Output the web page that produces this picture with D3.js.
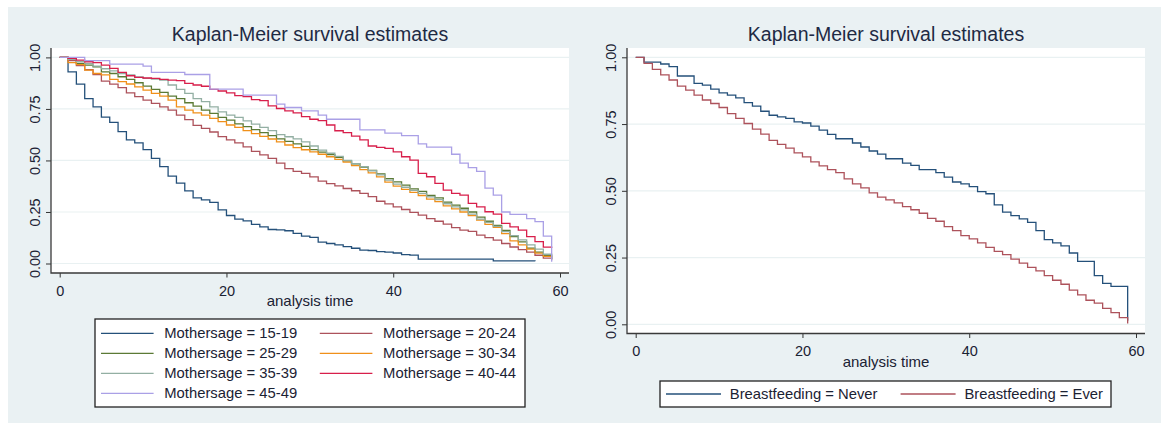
<!DOCTYPE html>
<html>
<head>
<meta charset="utf-8">
<script src="https://cdn.jsdelivr.net/npm/d3@7"></script>
<style>
  body { margin: 0; background: #fff; }
  svg { display: block; font-family: "Liberation Sans", Arial, sans-serif; }
</style>
</head>
<body>
<div id="chart"></div>
<script>
/*
** Data: survivor function S(t) at months t = 0, 1, 2, ...
*/
var age1519 = [1, .93, .87, .80, .76, .71, .685, .64, .60, .585,
               .553, .51, .47, .424, .39, .352, .318, .309, .297, .26,
               .233, .215, .207, .19, .178, .165, .163, .159, .146, .133,
               .127, .104, .097, .09, .082, .074, .065, .063, .058, .055,
               .051, .043, .041, .021, .021, .021, .021, .021, .021, .021,
               .021, .021, .013, .013, .013, .013, .013, .011];
var age2024 = [1, .985, .96, .94, .917, .885, .87, .853, .828, .81,
               .793, .777, .76, .744, .72, .698, .67, .656, .638, .616,
               .60, .585, .566, .544, .527, .51, .487, .46, .447, .437,
               .42, .40, .388, .377, .364, .353, .34, .324, .302, .289,
               .275, .262, .248, .235, .218, .205, .191, .174, .162, .156,
               .138, .126, .113, .097, .08, .067, .055, .04, .026, .016];
var age2529 = [1, .99, .971, .963, .954, .93, .922, .906, .893, .877,
               .861, .845, .83, .812, .80, .78, .764, .744, .728, .709,
               .696, .677, .664, .65, .635, .62, .605, .593, .58, .568,
               .553, .54, .528, .515, .498, .484, .468, .452, .435, .412,
               .396, .38, .362, .35, .33, .318, .298, .283, .268, .25,
               .225, .205, .185, .16, .13, .105, .075, .055, .04, .022];
var age3034 = [1, .975, .965, .938, .922, .915, .893, .882, .871, .857,
               .841, .825, .812, .793, .76, .744, .731, .72, .704, .688,
               .672, .66, .645, .63, .617, .604, .59, .575, .562, .552,
               .542, .53, .518, .505, .492, .475, .455, .44, .42, .395,
               .375, .36, .345, .33, .312, .30, .28, .265, .25, .232,
               .21, .19, .175, .145, .11, .09, .07, .05, .035, .03];
var age3539 = [1, .99, .98, .97, .958, .945, .935, .922, .915, .905,
               .898, .895, .89, .866, .845, .825, .80, .785, .76, .736,
               .72, .709, .692, .676, .66, .645, .625, .615, .605, .59,
               .57, .55, .535, .52, .50, .485, .47, .45, .43, .405,
               .385, .37, .355, .34, .323, .31, .29, .275, .26, .24,
               .215, .20, .18, .155, .135, .115, .09, .07, .045, .025];
var age4044 = [1, .995, .987, .979, .975, .963, .947, .927, .911, .903,
               .90, .898, .893, .89, .887, .874, .866, .86, .845, .837,
               .828, .815, .81, .795, .79, .765, .752, .741, .731, .713,
               .70, .693, .672, .644, .635, .618, .60, .57, .563, .559,
               .542, .518, .502, .437, .421, .389, .356, .34, .332, .292,
               .275, .251, .24, .195, .178, .162, .13, .106, .079, .075];
var age4549 = [1, 1, 1, .984, .984, .984, .967, .967, .967, .967,
               .958, .927, .927, .927, .927, .917, .917, .917, .846, .846,
               .846, .846, .817, .817, .817, .817, .773, .757, .757, .741,
               .741, .72, .70, .70, .70, .70, .648, .648, .648, .633,
               .633, .62, .62, .58, .565, .565, .565, .53, .487, .465,
               .447, .366, .332, .25, .238, .238, .218, .203, .133, .008];
var bfNever = [1, .982, .982, .975, .965, .93, .93, .902, .896, .881,
               .867, .858, .848, .83, .817, .798, .783, .777, .771, .758,
               .754, .742, .727, .711, .695, .695, .679, .664, .649, .637,
               .62, .62, .604, .595, .579, .579, .568, .551, .533, .526,
               .516, .497, .489, .447, .42, .407, .395, .382, .351, .317,
               .305, .294, .267, .236, .236, .182, .153, .142, .142, .013];
var bfEver  = [1, .977, .955, .934, .915, .892, .877, .858, .84, .827,
               .812, .789, .771, .752, .731, .712, .689, .674, .66, .642,
               .627, .608, .593, .579, .568, .545, .526, .511, .492, .476,
               .466, .455, .441, .429, .416, .397, .386, .366, .351, .332,
               .32, .305, .288, .273, .261, .244, .229, .213, .20, .182,
               .165, .15, .128, .11, .09, .079, .06, .044, .025, .003];

var ageLabels = ["Mothersage = 15-19", "Mothersage = 20-24", "Mothersage = 25-29",
                 "Mothersage = 30-34", "Mothersage = 35-39", "Mothersage = 40-44",
                 "Mothersage = 45-49"];
var bfLabels  = ["Breastfeeding = Never", "Breastfeeding = Ever"];
var xTicks = [0, 20, 40, 60];
var yTicks = [0, .25, .5, .75, 1];

var ageColors = ["#24507a", "#ad525b", "#5b7a35", "#f0901a", "#93afa3", "#d81f4b", "#aaa0e6"];
var bfColors  = ["#24507a", "#ad525b"];

function KMPlot() {
    /*
    ** Private Variables
    */
    var frame            // white plot region {left, right, top, bottom}
      , xRange
      , yRange
      , title = "Kaplan-Meier survival estimates"
      , series = []
      , labels = []
      , colors = []
      , legend           // {x, y, w, h, cols, colStep, rowStep, line}
    ;
    function my(sel) {
        var x = d3.scaleLinear().domain([0, 60]).range(xRange)
          , y = d3.scaleLinear().domain([0, 1]).range(yRange)
          , line = d3.line()
              .x(function(d, i) { return x(i); })
              .y(function(d) { return y(d); })
              .curve(d3.curveStepAfter)
          , g = sel.append("g")
        ;
        g.append("rect")
            .attr("x", frame.left)
            .attr("y", frame.top)
            .attr("width", frame.right - frame.left)
            .attr("height", frame.bottom - frame.top)
            .attr("fill", "#fff")
        ;
        g.append("g").selectAll("line")
            .data(yTicks)
          .enter().append("line")
            .attr("x1", frame.left)
            .attr("x2", frame.right)
            .attr("y1", function(d) { return y(d); })
            .attr("y2", function(d) { return y(d); })
            .attr("stroke", "#e9f1f2")
            .attr("stroke-width", 1.2)
        ;
        g.append("text")
            .attr("x", (frame.left + frame.right) / 2)
            .attr("y", 40.5)
            .attr("text-anchor", "middle")
            .attr("font-size", "19.5px")
            .attr("fill", "#1e2a44")
            .text(title)
        ;
        // curves, first series at the bottom
        g.append("g").selectAll("path")
            .data(series)
          .enter().append("path")
            .attr("d", line)
            .attr("fill", "none")
            .attr("stroke", function(d, i) { return colors[i]; })
            .attr("stroke-width", 1.3)
        ;
        // axes: draw the long axis lines ourselves, d3 does the ticks
        var yAxis = g.append("g")
            .attr("transform", "translate(" + frame.left + ",0)")
            .call(d3.axisLeft(y).tickValues(yTicks).tickFormat(d3.format(".2f"))
                    .tickSize(5).tickSizeOuter(0))
        ;
        yAxis.select(".domain").remove();
        yAxis.selectAll(".tick text")
            .attr("transform", "rotate(-90)")
            .attr("x", 0)
            .attr("y", -11.5)
            .attr("dy", 0)
            .attr("text-anchor", "middle")
        ;
        var xAxis = g.append("g")
            .attr("transform", "translate(0," + frame.bottom + ")")
            .call(d3.axisBottom(x).tickValues(xTicks).tickSize(4.5).tickSizeOuter(0))
        ;
        xAxis.select(".domain").remove();
        xAxis.selectAll(".tick text")
            .attr("y", 22.5)
            .attr("dy", 0)
        ;
        g.selectAll(".tick line").attr("stroke", "#333");
        g.selectAll(".tick text")
            .attr("font-size", "14.5px")
            .attr("font-family", "\"Liberation Sans\", Arial, sans-serif")
            .attr("fill", "#1b2233")
        ;
        g.append("path")
            .attr("d", "M" + frame.left + "," + frame.top + "V" + frame.bottom + "H" + frame.right)
            .attr("fill", "none")
            .attr("stroke", "#3a3a3a")
            .attr("stroke-width", 1.3)
        ;
        g.append("text")
            .attr("x", (frame.left + frame.right) / 2)
            .attr("y", frame.bottom + 33)
            .attr("text-anchor", "middle")
            .attr("font-size", "15px")
            .attr("fill", "#1b2233")
            .text("analysis time")
        ;
        /*
        ** Legend
        */
        var lg = g.append("g");
        lg.append("rect")
            .attr("x", legend.x)
            .attr("y", legend.y)
            .attr("width", legend.w)
            .attr("height", legend.h)
            .attr("fill", "#fff")
            .attr("stroke", "#222")
            .attr("stroke-width", 1.3)
        ;
        var item = lg.selectAll(".item")
            .data(labels)
          .enter().append("g")
            .attr("class", "item")
            .attr("transform", function(d, i) {
                var c = i % legend.cols, r = Math.floor(i / legend.cols);
                return "translate(" + (legend.x + 6 + c * legend.colStep) + ","
                    + (legend.y + legend.first + r * legend.rowStep) + ")";
              })
        ;
        item.append("line")
            .attr("x1", 0)
            .attr("x2", legend.line)
            .attr("stroke", function(d, i) { return colors[i]; })
            .attr("stroke-width", 1.3)
        ;
        item.append("text")
            .attr("x", legend.textX)
            .attr("dy", "0.35em")
            .attr("font-size", "14.8px")
            .attr("fill", "#1b2233")
            .text(function(d) { return d; })
        ;
    } // main function object

    /*
    ** API: Getter/Setter Functions
    */
    my.frame = function(_) { if(!arguments.length) return frame; frame = _; return my; };
    my.xRange = function(_) { if(!arguments.length) return xRange; xRange = _; return my; };
    my.yRange = function(_) { if(!arguments.length) return yRange; yRange = _; return my; };
    my.series = function(_) { if(!arguments.length) return series; series = _; return my; };
    my.labels = function(_) { if(!arguments.length) return labels; labels = _; return my; };
    my.colors = function(_) { if(!arguments.length) return colors; colors = _; return my; };
    my.legend = function(_) { if(!arguments.length) return legend; legend = _; return my; };
    my.title = function(_) { if(!arguments.length) return title; title = _; return my; };
    return my;
} // function object KMPlot()

var svg = d3.select("#chart").append("svg")
    .attr("width", 1162)
    .attr("height", 423)
;
svg.append("rect")
    .attr("x", 8)
    .attr("y", 7)
    .attr("width", 1153)
    .attr("height", 416)
    .attr("fill", "#eaf1f3")
;

var ageChart = KMPlot()
    .frame({left: 51, right: 569, top: 48, bottom: 273})
    .xRange([59.7, 560])
    .yRange([263.5, 57.4])
    .series([age1519, age2024, age2529, age3034, age3539, age4044, age4549])
    .labels(ageLabels)
    .colors(ageColors)
    .legend({x: 95, y: 319, w: 430, h: 88, cols: 2, colStep: 218.8,
             rowStep: 20, first: 14.3, line: 52.6, textX: 63.3})
;
var bfChart = KMPlot()
    .frame({left: 627, right: 1145, top: 48, bottom: 333.5})
    .xRange([635.7, 1136])
    .yRange([324.3, 57.3])
    .series([bfNever, bfEver])
    .labels(bfLabels)
    .colors(bfColors)
    .legend({x: 660, y: 381, w: 451, h: 26, cols: 2, colStep: 234.6,
             rowStep: 20, first: 13, line: 55, textX: 63.8})
;
svg.call(ageChart);
svg.call(bfChart);
</script>
</body>
</html>
